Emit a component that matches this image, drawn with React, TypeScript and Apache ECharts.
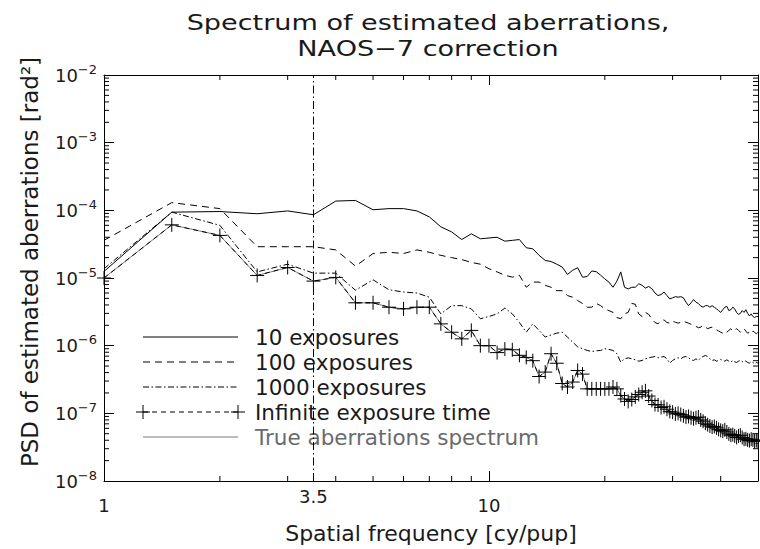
import React, { useEffect, useRef } from "react";
import * as echarts from "echarts";

// ---------------- data ----------------
const freq = [
  1, 1.5, 2, 2.5, 3, 3.5, 4, 4.5, 5, 5.5, 6, 6.5, 7, 7.5, 8, 8.5, 9, 9.5, 10, 10.5,
  11, 11.5, 12, 12.5, 13, 13.5, 14, 14.5, 15, 15.5, 16, 16.5, 17, 17.5, 18, 18.5, 19, 19.5, 20, 20.5,
  21, 21.5, 22, 22.5, 23, 23.5, 24, 24.5, 25, 25.5, 26, 26.5, 27, 27.5, 28, 28.5, 29, 29.5, 30, 30.5,
  31, 31.5, 32, 32.5, 33, 33.5, 34, 34.5, 35, 35.5, 36, 36.5, 37, 37.5, 38, 38.5, 39, 39.5, 40, 40.5,
  41, 41.5, 42, 42.5, 43, 43.5, 44, 44.5, 45, 45.5, 46, 46.5, 47, 47.5, 48, 48.5, 49, 49.5, 50,
];

const exp10 = [
  1.25e-5, 9.4e-5, 9.6e-5, 8.9e-5, 9.8e-5, 8.6e-5, 1.37e-4, 1.4e-4, 1.02e-4, 1.06e-4,
  1.06e-4, 9.8e-5, 8.0e-5, 5.7e-5, 4.8e-5, 3.7e-5, 4.5e-5, 3.8e-5, 3.9e-5, 4.0e-5,
  3.5e-5, 3.6e-5, 3.7e-5, 2.8e-5, 2.7e-5, 2.16e-5, 1.82e-5, 1.75e-5, 1.6e-5, 1.45e-5,
  1.13e-5, 1.3e-5, 1.42e-5, 1.03e-5, 1.05e-5, 1.27e-5, 1.24e-5, 1.1e-5, 9.7e-6, 8.7e-6,
  7.3e-6, 9.0e-6, 1.23e-5, 7.3e-6, 6.9e-6, 7.3e-6,
  7.3e-6, 8.2e-6, 7.8e-6, 7.1e-6, 7.5e-6, 6.95e-6, 6.0e-6, 5.5e-6, 5.7e-6, 6.2e-6, 5.5e-6, 4.9e-6,
  5.1e-6, 5.3e-6, 5.2e-6, 5.3e-6, 5.1e-6, 4.4e-6, 3.9e-6, 4.3e-6, 4.8e-6, 4.4e-6,
  4.2e-6, 3.85e-6, 3.7e-6, 3.9e-6, 3.9e-6, 3.7e-6, 3.9e-6, 3.7e-6, 3.5e-6, 3.3e-6,
  3.1e-6, 3.4e-6, 3.7e-6, 3.8e-6, 3.3e-6, 3.4e-6, 3.7e-6, 3.5e-6, 3.1e-6, 2.9e-6,
  3.0e-6, 3.3e-6, 3.1e-6, 3.4e-6, 3.0e-6, 2.75e-6, 2.95e-6, 2.7e-6, 2.6e-6, 2.7e-6, 2.7e-6,
];

const exp100 = [
  3.6e-5, 1.3e-4, 1.06e-4, 2.9e-5, 2.9e-5, 2.9e-5, 2.6e-5, 1.5e-5, 2.3e-5, 2.4e-5,
  2.3e-5, 2.6e-5, 2.4e-5, 2.16e-5, 2.0e-5, 1.87e-5, 1.7e-5, 1.6e-5, 1.37e-5, 1.23e-5,
  1.1e-5, 1.03e-5, 1.1e-5, 7.3e-6, 8.7e-6, 8.7e-6, 7.8e-6, 7.3e-6, 6.5e-6, 6.5e-6,
  5.5e-6, 5.2e-6, 4.65e-6, 4.2e-6, 3.7e-6, 3.7e-6, 4.2e-6, 3.9e-6, 3.5e-6, 3.3e-6,
  3.1e-6, 2.6e-6, 2.5e-6, 2.95e-6, 3.1e-6, 4.2e-6,
  4.1e-6, 2.95e-6, 2.7e-6, 3.1e-6, 2.9e-6, 2.5e-6, 2.2e-6, 2.1e-6, 2.36e-6, 2.4e-6, 2.2e-6, 2.15e-6,
  2.3e-6, 2.22e-6, 2.15e-6, 2.22e-6, 2.3e-6, 2.22e-6, 2.15e-6, 2.07e-6, 2.0e-6, 1.93e-6,
  1.84e-6, 1.88e-6, 2.0e-6, 1.88e-6, 1.78e-6, 1.84e-6, 1.88e-6, 1.78e-6, 1.72e-6, 1.65e-6,
  1.58e-6, 1.53e-6, 1.64e-6, 1.58e-6, 1.68e-6, 1.78e-6, 1.64e-6, 1.72e-6, 1.78e-6, 1.68e-6,
  1.58e-6, 1.72e-6, 1.78e-6, 1.64e-6, 1.53e-6, 1.58e-6, 1.5e-6, 1.64e-6, 1.57e-6, 1.5e-6, 1.58e-6,
];

const exp1000 = [
  1.37e-5, 9.4e-5, 6.0e-5, 1.23e-5, 1.6e-5, 1.18e-5, 1.18e-5, 6.6e-6, 9.4e-6, 6.7e-6,
  6.2e-6, 6.0e-6, 5.2e-6, 2.95e-6, 3.9e-6, 3.9e-6, 3.5e-6, 2.5e-6, 2.7e-6, 2.95e-6,
  3.6e-6, 2.95e-6, 2.2e-6, 1.58e-6, 2.1e-6, 1.68e-6, 1.34e-6, 1.44e-6, 1.53e-6, 1.58e-6,
  1.34e-6, 1.13e-6, 9.6e-7, 9.0e-7, 8.5e-7, 8.2e-7, 8.4e-7, 8.5e-7, 9.0e-7, 8.8e-7,
  8.5e-7, 7.6e-7, 5.7e-7, 6.4e-7, 6.6e-7, 6.4e-7,
  6.18e-7, 5.9e-7, 6.04e-7, 6.4e-7, 6.62e-7, 6.77e-7, 6.92e-7, 6.62e-7, 6.77e-7, 6.92e-7, 6.4e-7, 5.52e-7,
  6.04e-7, 6.4e-7, 6.62e-7, 6.4e-7, 6.77e-7, 6.92e-7, 6.62e-7, 6.18e-7, 6.04e-7, 6.4e-7,
  6.04e-7, 6.62e-7, 6.92e-7, 7.16e-7, 6.92e-7, 6.4e-7, 6.04e-7, 6.18e-7, 5.9e-7, 6.04e-7,
  6.25e-7, 6.04e-7, 5.9e-7, 6.18e-7, 5.9e-7, 5.71e-7, 6.04e-7, 5.77e-7, 5.65e-7, 5.9e-7,
  6.04e-7, 5.77e-7, 6.04e-7, 5.9e-7, 5.65e-7, 5.52e-7, 5.77e-7, 5.65e-7, 5.39e-7, 5.65e-7, 5.52e-7,
];

const expInf = [
  1.0e-5, 6.1e-5, 4.26e-5, 1.09e-5, 1.43e-5, 9.0e-6, 1.02e-5, 4.3e-6, 4.3e-6, 3.7e-6,
  3.5e-6, 3.7e-6, 3.7e-6, 2.1e-6, 1.58e-6, 1.26e-6, 1.68e-6, 1.0e-6, 1.0e-6, 7.9e-7,
  8.9e-7, 8.7e-7, 7.2e-7, 6.7e-7, 6.0e-7, 3.5e-7, 4.07e-7, 7.6e-7, 5.5e-7, 2.76e-7,
  2.45e-7, 2.9e-7, 4.3e-7, 3.8e-7, 2.3e-7, 2.3e-7, 2.3e-7, 2.3e-7, 2.3e-7, 2.3e-7,
  2.45e-7, 2.3e-7, 1.83e-7, 1.63e-7, 1.5e-7, 1.6e-7,
  1.75e-7, 1.9e-7, 2.05e-7, 2.15e-7, 1.8e-7, 1.55e-7, 1.35e-7, 1.33e-7, 1.22e-7, 1.25e-7, 1.15e-7, 1.07e-7,
  1.04e-7, 9.8e-8, 1.0e-7, 9.6e-8, 9.2e-8, 8.8e-8, 9.0e-8, 8.6e-8, 8.3e-8, 8.6e-8,
  8.8e-8, 8.0e-8, 7.65e-8, 7.15e-8, 6.8e-8, 6.5e-8, 6.25e-8, 6.4e-8, 6.1e-8, 5.8e-8,
  5.6e-8, 5.45e-8, 5.7e-8, 5.3e-8, 4.97e-8, 4.75e-8, 4.85e-8, 4.65e-8, 4.4e-8, 4.65e-8,
  4.75e-8, 4.4e-8, 4.15e-8, 4.2e-8, 4.05e-8, 3.96e-8, 4.15e-8, 4.05e-8, 3.87e-8, 3.96e-8, 3.87e-8,
];

const trueSpec = [
  1.0e-5, 6.1e-5, 4.26e-5, 1.09e-5, 1.43e-5, 9.0e-6, 1.02e-5, 4.3e-6, 4.3e-6, 3.7e-6,
  3.5e-6, 3.7e-6, 3.7e-6, 2.1e-6, 1.58e-6, 1.26e-6, 1.68e-6, 1.0e-6, 1.0e-6, 7.9e-7,
  8.9e-7, 8.7e-7, 7.2e-7, 6.7e-7, 6.0e-7, 3.5e-7, 4.07e-7, 7.6e-7, 5.5e-7, 2.76e-7,
  2.45e-7, 2.9e-7, 4.3e-7, 3.8e-7, 2.3e-7, 2.3e-7, 2.3e-7, 2.3e-7, 2.3e-7, 2.3e-7,
  2.45e-7, 2.3e-7, 1.83e-7, 1.63e-7, 1.5e-7, 1.6e-7,
  1.75e-7, 1.9e-7, 2.05e-7, 2.1e-7, 1.75e-7, 1.5e-7, 1.32e-7, 1.3e-7, 1.18e-7, 1.22e-7, 1.1e-7, 1.02e-7,
  1.0e-7, 9.4e-8, 9.6e-8, 9.0e-8, 8.6e-8, 8.2e-8, 8.6e-8, 8.0e-8, 7.8e-8, 8.2e-8,
  8.3e-8, 7.5e-8, 7.2e-8, 6.6e-8, 6.3e-8, 6.1e-8, 5.8e-8, 6.0e-8, 5.6e-8, 5.4e-8,
  5.2e-8, 5.0e-8, 5.3e-8, 4.9e-8, 4.6e-8, 4.4e-8, 4.5e-8, 4.3e-8, 4.05e-8, 4.3e-8,
  4.4e-8, 4.05e-8, 3.8e-8, 3.9e-8, 3.75e-8, 3.65e-8, 3.85e-8, 3.7e-8, 3.55e-8, 3.65e-8, 3.55e-8,
];

const xMin = 1;
const xMax = 50;
const yMin = 1e-8;
const yMax = 1e-2;
const markFreq = 3.5;
const xMinorTicks = [2, 3, 4, 5, 6, 7, 8, 9, 20, 30, 40];
const yDecades = [-8, -7, -6, -5, -4, -3];
const minorMultipliers = [2, 3, 4, 5, 6, 7, 8, 9];

const titleLines = ["Spectrum of estimated aberrations,", "NAOS\u22127 correction"];
const xName = "Spatial frequency [cy/pup]";
const yName = "PSD of estimated aberrations [rad\u00b2]";
const legendLabels = [
  "10 exposures",
  "100 exposures",
  "1000 exposures",
  "Infinite exposure time",
  "True aberrations spectrum",
];

// ---------------- styling ----------------
const FONT = "'DejaVu Sans', 'Liberation Sans', sans-serif";
const BLACK = "#000000";
const TXT = "#1a1a1a";
const GREY = "#7a7a7a";
const DASH_100 = [7, 5];
const DASH_DOT = [6, 2.5, 1.5, 2.5];
const DASH_INF = [5, 4];
const VLINE_DASH = [8, 3, 1.5, 3];

const pairs = (ys: number[]) => freq.map((f, i) => [f, ys[i]]);

const PLUS_PATH = "path://M7,0 L7,14 M0,7 L14,7";

function minorTickSeries(kind: "x" | "y") {
  const data =
    kind === "x"
      ? xMinorTicks.map((v) => [v, 1e-5])
      : yDecades.flatMap((d) => minorMultipliers.map((m) => [3, m * Math.pow(10, d)]));
  return {
    type: "custom",
    silent: true,
    clip: false,
    z: 10,
    data,
    renderItem: (_p: any, api: any) => {
      const st = { stroke: BLACK, lineWidth: 1 };
      if (kind === "x") {
        const v = api.value(0);
        const b = api.coord([v, yMin]);
        const t = api.coord([v, yMax]);
        return {
          type: "group",
          children: [
            { type: "line", shape: { x1: b[0], y1: b[1], x2: b[0], y2: b[1] - 5 }, style: st },
            { type: "line", shape: { x1: t[0], y1: t[1], x2: t[0], y2: t[1] + 5 }, style: st },
          ],
        };
      }
      const v = api.value(1);
      const l = api.coord([xMin, v]);
      const r = api.coord([xMax, v]);
      return {
        type: "group",
        children: [
          { type: "line", shape: { x1: l[0], y1: l[1], x2: l[0] + 5, y2: l[1] }, style: st },
          { type: "line", shape: { x1: r[0], y1: r[1], x2: r[0] - 5, y2: r[1] }, style: st },
        ],
      };
    },
  };
}

function overlayGraphics() {
  const x1 = 143;
  const x2 = 238;
  const tx = 255;
  const y0 = 337;
  const gap = 25;
  const styles = [
    { stroke: BLACK, lineDash: null as any },
    { stroke: BLACK, lineDash: DASH_100 },
    { stroke: BLACK, lineDash: DASH_DOT },
    { stroke: BLACK, lineDash: DASH_INF },
    { stroke: GREY, lineDash: null as any },
  ];
  const els: any[] = [];
  // title: wide, Hershey-like lettering
  titleLines.forEach((line, i) => {
    els.push({
      type: "text",
      silent: true,
      x: 428,
      y: 23 + i * 26,
      scaleX: 1.29,
      style: {
        text: line,
        fill: TXT,
        font: `21px ${FONT}`,
        align: "center",
        verticalAlign: "middle",
      },
    });
  });
  legendLabels.forEach((label, i) => {
    const y = y0 + i * gap;
    els.push({
      type: "line",
      silent: true,
      shape: { x1, y1: y, x2, y2: y },
      style: { stroke: styles[i].stroke, lineWidth: 1, lineDash: styles[i].lineDash },
    });
    if (i === 3) {
      [x1, x2].forEach((cx) => {
        els.push({ type: "line", silent: true, shape: { x1: cx - 7, y1: y, x2: cx + 7, y2: y }, style: { stroke: BLACK, lineWidth: 1 } });
        els.push({ type: "line", silent: true, shape: { x1: cx, y1: y - 7, x2: cx, y2: y + 7 }, style: { stroke: BLACK, lineWidth: 1 } });
      });
    }
    els.push({
      type: "text",
      silent: true,
      x: tx,
      y,
      style: {
        text: label,
        fill: i === 4 ? "#6a6a6a" : TXT,
        font: `21.5px ${FONT}`,
        verticalAlign: "middle",
        align: "left",
      },
    });
  });
  // y-axis title (rotated)
  els.push({
    type: "text",
    silent: true,
    x: 30,
    y: 262,
    rotation: Math.PI / 2,
    style: {
      text: yName,
      fill: TXT,
      font: `23px ${FONT}`,
      align: "center",
      verticalAlign: "middle",
    },
  });
  return els;
}

export default function App() {
  const ref = useRef<HTMLDivElement>(null);

  useEffect(() => {
    if (!ref.current) return;
    const chart = echarts.init(ref.current, null, { renderer: "svg" });

    const axisCommon = {
      axisLine: { show: true, lineStyle: { color: BLACK, width: 1 } },
      axisTick: { show: true, inside: true, length: 10, lineStyle: { color: BLACK, width: 1 } },
      splitLine: { show: false },
      minorTick: { show: false },
    };

    const option: any = {
      animation: false,
      backgroundColor: "#ffffff",
      textStyle: { fontFamily: FONT },
      grid: { left: 104, right: 2, top: 75, bottom: 68, containLabel: false, outerBoundsMode: "none" },
      xAxis: [
        {
          type: "log",
          logBase: 10,
          min: xMin,
          max: xMax,
          position: "bottom",
          name: xName,
          nameLocation: "middle",
          nameGap: 41,
          nameTextStyle: { fontFamily: FONT, fontSize: 22, color: TXT },
          ...axisCommon,
          axisLabel: {
            show: true,
            margin: 15,
            color: TXT,
            fontSize: 18,
            fontFamily: FONT,
            showMaxLabel: false,
            formatter: (v: number) => String(Math.round(v)),
          },
        },
        {
          type: "log",
          logBase: 10,
          min: xMin,
          max: xMax,
          position: "top",
          ...axisCommon,
          axisLabel: { show: false },
        },
      ],
      yAxis: [
        {
          type: "log",
          logBase: 10,
          min: yMin,
          max: yMax,
          position: "left",
          ...axisCommon,
          axisLabel: {
            show: true,
            margin: 7,
            color: TXT,
            fontSize: 18,
            fontFamily: FONT,
            formatter: (v: number) => `10{sup|\u2212${-Math.round(Math.log10(v))}}`,
            rich: {
              sup: { fontSize: 13, fontFamily: FONT, color: TXT, padding: [0, 0, 12, 0] },
            },
          },
        },
        {
          type: "log",
          logBase: 10,
          min: yMin,
          max: yMax,
          position: "right",
          ...axisCommon,
          axisLabel: { show: false },
        },
      ],
      graphic: overlayGraphics(),
      series: [
        {
          name: legendLabels[4],
          type: "line",
          data: pairs(trueSpec),
          showSymbol: false,
          lineStyle: { color: GREY, width: 1 },
          z: 2,
        },
        {
          name: legendLabels[0],
          type: "line",
          data: pairs(exp10),
          showSymbol: false,
          lineStyle: { color: BLACK, width: 1 },
          z: 3,
          markLine: {
            silent: true,
            symbol: ["none", "none"],
            lineStyle: { color: BLACK, width: 1, type: VLINE_DASH },
            label: {
              show: true,
              position: "start",
              formatter: "3.5",
              color: TXT,
              fontSize: 18,
              fontFamily: FONT,
              distance: 6,
            },
            data: [{ xAxis: markFreq }],
          },
        },
        {
          name: legendLabels[1],
          type: "line",
          data: pairs(exp100),
          showSymbol: false,
          lineStyle: { color: BLACK, width: 1, type: DASH_100 },
          z: 3,
        },
        {
          name: legendLabels[2],
          type: "line",
          data: pairs(exp1000),
          showSymbol: false,
          lineStyle: { color: BLACK, width: 1, type: DASH_DOT },
          z: 3,
        },
        {
          name: legendLabels[3],
          type: "line",
          data: pairs(expInf),
          showSymbol: true,
          showAllSymbol: true,
          symbol: PLUS_PATH,
          symbolSize: 14,
          symbolKeepAspect: true,
          itemStyle: { color: "rgba(0,0,0,0)", borderColor: BLACK, borderWidth: 1 },
          lineStyle: { color: BLACK, width: 1, type: DASH_INF },
          z: 4,
        },
        minorTickSeries("x"),
        minorTickSeries("y"),
      ],
    };

    chart.setOption(option);
    return () => chart.dispose();
  }, []);

  return (
    <div
      ref={ref}
      style={{ position: "fixed", left: 0, top: 0, width: 760, height: 549, background: "#fff" }}
    />
  );
}
